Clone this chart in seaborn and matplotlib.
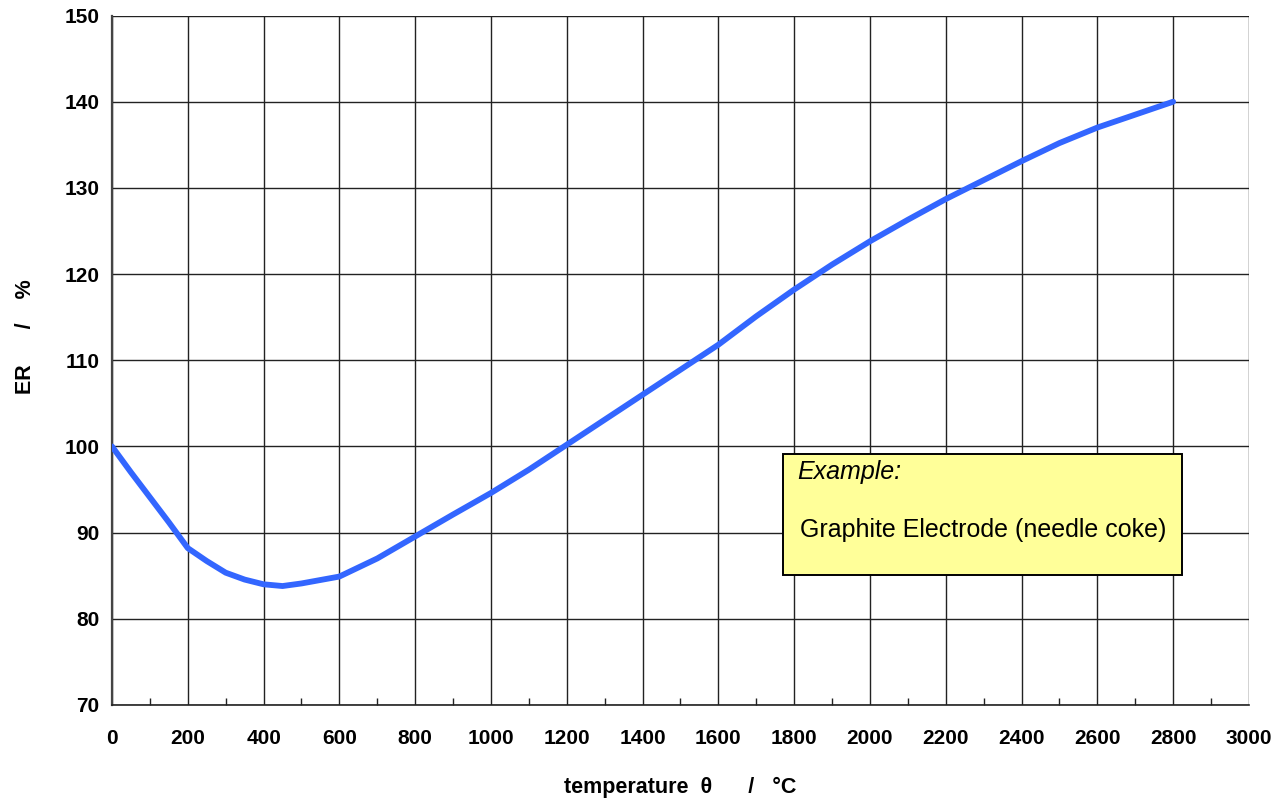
import matplotlib
matplotlib.use("Agg")
import matplotlib.pyplot as plt
from matplotlib.ticker import MultipleLocator
from matplotlib.patches import Rectangle
import seaborn as sns
import pandas as pd

# Relative electrical resistivity of a graphite electrode vs. temperature
temperature_c = [0, 50, 100, 150, 200, 250, 300, 350, 400, 450, 500, 600,
                 700, 800, 900, 1000, 1100, 1200, 1300, 1400, 1500, 1600, 1700,
                 1800, 1900, 2000, 2100, 2200, 2300, 2400, 2500, 2600, 2700, 2800]
er_percent = [100.0, 97.0, 94.1, 91.2, 88.2, 86.7, 85.35, 84.55, 84.0, 83.8,
              84.1, 84.9, 87.0, 89.55, 92.1, 94.6, 97.3, 100.2, 103.1, 106.0,
              108.9, 111.8, 115.1, 118.2, 121.1, 123.8, 126.3, 128.7, 130.9,
              133.1, 135.2, 137.0, 138.5, 140.0]

df = pd.DataFrame({"temperature": temperature_c, "ER": er_percent})

sns.set_theme(style="white")
plt.rcParams["font.family"] = ["Liberation Sans", "DejaVu Sans"]
plt.rcParams.update({"text.color": "black", "axes.labelcolor": "black",
                     "xtick.color": "black", "ytick.color": "black"})

fig = plt.figure(figsize=(12.77, 8.01), dpi=100)
ax = fig.add_axes([0.0877, 0.1199, 0.8903, 0.8607])

sns.lineplot(data=df, x="temperature", y="ER", ax=ax, color="#3366FF",
             linewidth=4.2, solid_capstyle="round", zorder=3)

ax.set_xlim(0, 3000)
ax.set_ylim(70, 150)
ax.xaxis.set_major_locator(MultipleLocator(200))
ax.xaxis.set_minor_locator(MultipleLocator(100))
ax.yaxis.set_major_locator(MultipleLocator(10))

ax.grid(True, which="major", color="#222222", linewidth=1.0)
ax.set_axisbelow(True)
# outer grid lines are drawn lighter
for gl in ax.get_ygridlines()[-1:] + ax.get_xgridlines()[-1:]:
    gl.set_color("#777777")

for side in ["top", "right"]:
    ax.spines[side].set_visible(False)
ax.spines["left"].set_color("#444444")
ax.spines["left"].set_linewidth(1.6)
ax.spines["bottom"].set_color("#222222")
ax.spines["bottom"].set_linewidth(1.2)

ax.tick_params(axis="x", which="major", direction="inout", length=10, width=1,
               color="#222222", labelsize=15, pad=12)
ax.tick_params(axis="x", which="minor", direction="in", length=5, width=1,
               color="#222222", bottom=True)
ax.tick_params(axis="y", which="major", direction="inout", length=14, width=1,
               color="#444444", labelsize=15, pad=2)
ax.tick_params(axis="y", which="minor", left=False)
for lbl in ax.get_xticklabels() + ax.get_yticklabels():
    lbl.set_fontweight("bold")

ax.set_xlabel("temperature  θ      /   °C", fontsize=15.5, fontweight="bold",
              va="center")
ax.xaxis.set_label_coords(0.5, -0.119)
ax.set_ylabel("ER      /    %", fontsize=15.5, fontweight="bold")
ax.yaxis.set_label_coords(-0.067, 0.534)

# Annotation box
box = Rectangle((0.5901, 0.1883), 0.351, 0.1754, transform=ax.transAxes,
                facecolor="#FFFF99", edgecolor="black", linewidth=1.4, zorder=4)
ax.add_patch(box)
ax.text(0.6025, 0.3385, "Example:", transform=ax.transAxes, fontsize=18,
        fontstyle="italic", va="center", ha="left", zorder=5)
ax.text(0.605, 0.2545, "Graphite Electrode (needle coke)", transform=ax.transAxes,
        fontsize=18, va="center", ha="left", zorder=5)

fig.savefig("out.png", dpi=100)
